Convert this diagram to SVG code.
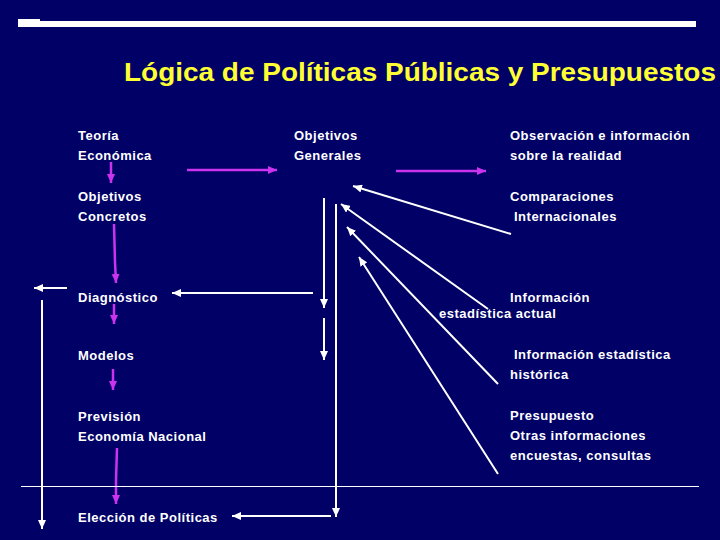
<svg xmlns="http://www.w3.org/2000/svg" width="720" height="540" viewBox="0 0 720 540">
<style>
.t{font-family:"Liberation Sans",Arial,sans-serif;font-weight:bold;font-size:13px;fill:#ffffff;letter-spacing:0.5px}
.title{font-family:"Liberation Sans",Arial,sans-serif;font-weight:bold;font-size:25px;fill:#ffff33}
.w{stroke:#ffffff;stroke-width:2;fill:none}
.m{stroke:#cc33ee;stroke-width:2.5;fill:none}
</style>
<defs>
<marker id="aw" markerUnits="userSpaceOnUse" markerWidth="10" markerHeight="8" refX="9" refY="4" orient="auto"><path d="M0,0 L9,4 L0,8 z" fill="#ffffff"/></marker>
<marker id="am" markerUnits="userSpaceOnUse" markerWidth="10" markerHeight="8" refX="9" refY="4" orient="auto"><path d="M0,0 L9,4 L0,8 z" fill="#cc33ee"/></marker>
</defs>
<rect width="720" height="540" fill="#000066"/>
<rect x="18" y="21" width="678" height="6" fill="#ffffff"/>
<rect x="18" y="19" width="22" height="8" fill="#ffffff"/>
<text class="title" x="124" y="81" textLength="592" lengthAdjust="spacingAndGlyphs">Lógica de Políticas Públicas y Presupuestos</text>

<g id="teoria"><text class="t" x="78" y="140">Teoría</text><text class="t" x="78" y="160">Económica</text></g>
<g id="objetivos-generales"><text class="t" x="294" y="140">Objetivos</text><text class="t" x="294" y="160">Generales</text></g>
<g id="observacion"><text class="t" x="510" y="140">Observación e información</text><text class="t" x="510" y="160">sobre la realidad</text></g>
<g id="objetivos-concretos"><text class="t" x="78" y="201">Objetivos</text><text class="t" x="78" y="221">Concretos</text></g>
<g id="comparaciones"><text class="t" x="510" y="201">Comparaciones</text><text class="t" x="514" y="221">Internacionales</text></g>
<g id="diagnostico"><text class="t" x="78" y="302">Diagnóstico</text></g>
<g id="info-actual"><text class="t" x="510" y="302">Información</text><text class="t" x="439" y="318">estadística actual</text></g>
<g id="modelos"><text class="t" x="78" y="360">Modelos</text></g>
<g id="info-historica"><text class="t" x="514" y="359">Información estadística</text><text class="t" x="510" y="379">histórica</text></g>
<g id="prevision"><text class="t" x="78" y="421">Previsión</text><text class="t" x="78" y="441">Economía Nacional</text></g>
<g id="presupuesto"><text class="t" x="510" y="420">Presupuesto</text><text class="t" x="510" y="440">Otras informaciones</text><text class="t" x="510" y="460">encuestas, consultas</text></g>
<g id="eleccion"><text class="t" x="78" y="522">Elección de Políticas</text></g>

<g id="connectors">
<line class="m" x1="111" y1="162" x2="111" y2="183" marker-end="url(#am)"/>
<line class="m" x1="187" y1="170" x2="277" y2="170" marker-end="url(#am)"/>
<line class="m" x1="396" y1="171" x2="486" y2="171" marker-end="url(#am)"/>
<polyline class="m" points="114,224 115,262 116,283" marker-end="url(#am)"/>
<line class="m" x1="114" y1="304" x2="114" y2="324" marker-end="url(#am)"/>
<line class="m" x1="113" y1="369" x2="113" y2="390" marker-end="url(#am)"/>
<polyline class="m" points="117,448 116,480 116,504" marker-end="url(#am)"/>

<line class="w" x1="67" y1="288" x2="34" y2="288" marker-end="url(#aw)"/>
<line class="w" x1="42" y1="300" x2="42" y2="529" marker-end="url(#aw)"/>
<line class="w" x1="313" y1="293" x2="172" y2="293" marker-end="url(#aw)"/>
<line class="w" x1="324" y1="198" x2="324" y2="308" marker-end="url(#aw)"/>
<line class="w" x1="324" y1="318" x2="324" y2="360" marker-end="url(#aw)"/>
<line class="w" x1="336" y1="204" x2="336" y2="517" marker-end="url(#aw)"/>
<line class="w" x1="331" y1="516" x2="232" y2="516" marker-end="url(#aw)"/>
<line x1="21" y1="486.5" x2="699" y2="486.5" stroke="#ffffff" stroke-width="1"/>

<line class="w" x1="511" y1="234" x2="353" y2="186" marker-end="url(#aw)"/>
<line class="w" x1="488" y1="309" x2="341" y2="204" marker-end="url(#aw)"/>
<line class="w" x1="498" y1="384" x2="347" y2="227" marker-end="url(#aw)"/>
<line class="w" x1="498" y1="474" x2="359" y2="257" marker-end="url(#aw)"/>
</g>
</svg>
